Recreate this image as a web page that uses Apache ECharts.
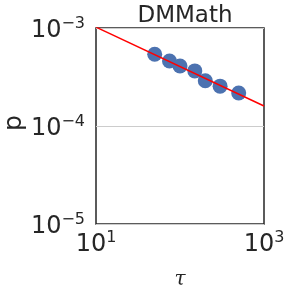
<!DOCTYPE html>
<html><head><meta charset="utf-8">
<script src="https://cdn.jsdelivr.net/npm/echarts@6/dist/echarts.min.js"></script>
<style>html,body{margin:0;padding:0;background:#fff}#c{width:288px;height:288px}</style>
</head><body><div id="c"></div>
<script>
const tau = [50, 75, 100, 150, 200, 300, 500];
const pVals = [5.4e-4, 4.6e-4, 4.1e-4, 3.65e-4, 2.9e-4, 2.55e-4, 2.17e-4];
const fitX = [10, 1000];
const fitY = [1.02e-3, 1.6e-4];
const xTickLabels = [10, 1000];
const titleText = 'DMMath';
const xName = 'τ';
const yName = 'p';

function expLabel(v){
  const e = Math.round(Math.log10(v));
  const s = e < 0 ? '\u2212' + Math.abs(e) : String(e);
  return '{b|10}{s|' + s + '}';
}
const rich = {
  b: {fontFamily: 'DejaVu Sans', fontSize: 24, color: '#262626'},
  s: {fontFamily: 'DejaVu Sans', fontSize: 16, color: '#262626', padding: [0,0,14,0]}
};

const chart = echarts.init(document.getElementById('c'), null, {renderer: 'canvas'});
chart.setOption({
  animation: false,
  title: {text: titleText, left: 180, textAlign: 'center', top: 0,
    textStyle: {fontFamily: 'DejaVu Sans', fontSize: 23, fontWeight: 'normal', color: '#262626'}},
  grid: {left: 96, top: 28, width: 168, height: 196, outerBoundsMode: 'none', containLabel: false,
    show: true, borderColor: '#262626', borderWidth: 1.5, backgroundColor: '#fff'},
  xAxis: {type: 'log', logBase: 10, min: 10, max: 1000,
    name: xName, nameLocation: 'middle', nameGap: 46, nameMoveOverlap: false,
    nameTextStyle: {fontFamily: 'DejaVu Serif', fontStyle: 'italic', fontSize: 20, color: '#262626'},
    axisLine: {show: false}, axisTick: {show: false}, splitLine: {show: false}, minorTick: {show: false},
    axisLabel: {formatter: v => xTickLabels.some(t => Math.abs(t - v) / t < 1e-6) ? expLabel(v) : '', rich: rich, margin: 6}},
  yAxis: {type: 'log', logBase: 10, min: 1e-5, max: 1e-3,
    name: yName, nameLocation: 'middle', nameGap: 69, nameRotate: 90, nameMoveOverlap: false,
    nameTextStyle: {fontFamily: 'DejaVu Sans', fontSize: 25, color: '#262626', padding: [0,0,0,6]},
    axisLine: {show: false}, axisTick: {show: false},
    splitLine: {show: true, lineStyle: {color: '#cccccc', width: 1}},
    axisLabel: {formatter: expLabel, rich: rich, margin: 11, padding: [6,0,0,0]}},
  series: [
    {type: 'scatter', data: tau.map((t,i)=>[t, pVals[i]]), symbolSize: 15,
     itemStyle: {color: '#4C72B0', opacity: 1}, z: 2},
    {type: 'line', data: fitX.map((t,i)=>[t, fitY[i]]), showSymbol: false, clip: true,
     lineStyle: {color: '#ff0000', width: 1.5}, z: 3}
  ]
});
</script></body></html>
